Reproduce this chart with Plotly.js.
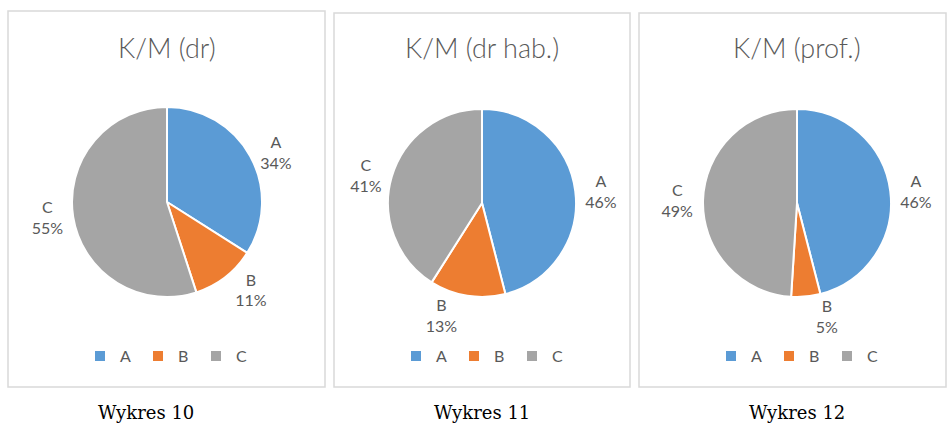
<!DOCTYPE html>
<html>
<head>
<meta charset="utf-8">
<script src="https://cdn.plot.ly/plotly-3.0.1.min.js"></script>
<style>html,body{margin:0;padding:0;background:#fff;}#chart{width:948px;height:423px;}</style>
</head>
<body>
<div id="chart"></div>
<script>
const categories = ['A', 'B', 'C'];
const titles = ['K/M (dr)', 'K/M (dr hab.)', 'K/M (prof.)'];
const captions = ['Wykres 10', 'Wykres 11', 'Wykres 12'];
const valuesDr = [34, 11, 55];
const valuesDrHab = [46, 13, 41];
const valuesProf = [46, 5, 49];
const colors = ['#5B9BD5', '#ED7D31', '#A5A5A5'];

const W = 948, H = 423;
const seriesList = [valuesDr, valuesDrHab, valuesProf];
// layout geometry (pixels)
const centers = [[167, 202, 95], [482, 203, 94], [797, 203, 94]];
const panels = [[8, 11, 325, 387], [334, 13, 630, 387], [639, 13, 946, 387]];
const legendX = [167, 483, 798];
const captionX = [146, 482, 797];
const txtColor = '#595959';
const sansFont = 'Lato, "Open Sans", sans-serif';

const px = x => x / W;
const py = y => 1 - y / H;

const traces = seriesList.map((vals, i) => {
  const [cx, cy, r] = centers[i];
  return {
    type: 'pie',
    labels: categories,
    values: vals,
    sort: false,
    direction: 'clockwise',
    rotation: 0,
    marker: {colors: colors, line: {color: '#ffffff', width: 2}},
    textposition: 'outside',
    texttemplate: '%{label}<br>%{value}%',
    textfont: {family: sansFont, size: 16, color: txtColor},
    hoverinfo: 'none',
    domain: {x: [px(cx - r), px(cx + r)], y: [py(cy + r), py(cy - r)]},
    legend: i === 0 ? 'legend' : 'legend' + (i + 1),
    legendgroup: 'g' + i,
    showlegend: true
  };
});

const shapes = panels.map(p => ({
  type: 'rect', xref: 'paper', yref: 'paper',
  x0: px(p[0]), x1: px(p[2]), y0: py(p[3]), y1: py(p[1]),
  line: {color: '#D9D9D9', width: 1.5}, fillcolor: 'rgba(0,0,0,0)'
}));

const annotations = [];
titles.forEach((t, i) => {
  annotations.push({
    text: t, xref: 'paper', yref: 'paper', x: px(centers[i][0]), y: py(48),
    xanchor: 'center', yanchor: 'middle', showarrow: false,
    font: {family: sansFont, size: 27, color: txtColor, weight: 300}
  });
});
captions.forEach((t, i) => {
  annotations.push({
    text: t, xref: 'paper', yref: 'paper', x: px(captionX[i]), y: py(412),
    xanchor: 'center', yanchor: 'middle', showarrow: false,
    font: {family: '"DejaVu Serif", serif', size: 18, color: '#000000'}
  });
});

const legendBase = {
  orientation: 'h', xanchor: 'center', yanchor: 'middle', y: py(356),
  traceorder: 'normal',
  font: {family: sansFont, size: 16, color: txtColor},
  bgcolor: 'rgba(0,0,0,0)', itemclick: false, itemdoubleclick: false,
  entrywidth: 13, entrywidthmode: 'pixels'
};

const layout = {
  width: W, height: H,
  margin: {l: 0, r: 0, t: 0, b: 0},
  paper_bgcolor: '#ffffff',
  shapes: shapes,
  annotations: annotations,
  legend: Object.assign({}, legendBase, {x: px(legendX[0])}),
  legend2: Object.assign({}, legendBase, {x: px(legendX[1])}),
  legend3: Object.assign({}, legendBase, {x: px(legendX[2])})
};

Plotly.newPlot('chart', traces, layout, {displayModeBar: false, staticPlot: true});
</script>
</body>
</html>
